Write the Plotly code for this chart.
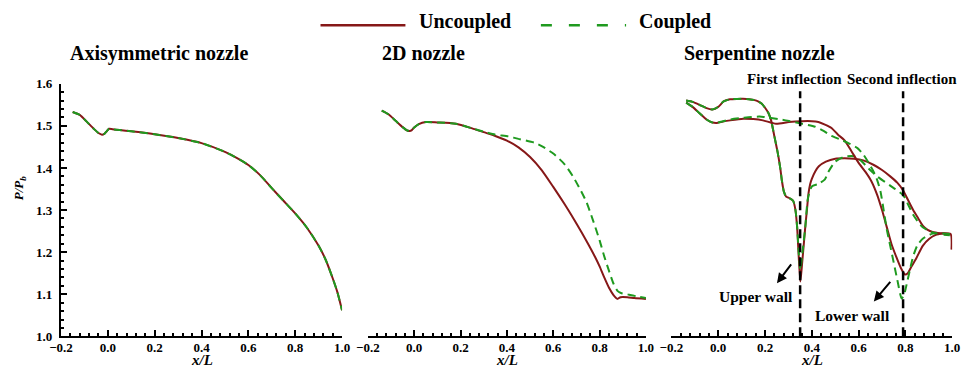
import plotly.graph_objects as go

# ---------------- data ----------------
# Axisymmetric nozzle
axi_x = [-0.15, -0.12, -0.09, -0.06, -0.04, -0.025, -0.015, -0.005, 0.005, 0.02, 0.05, 0.1, 0.2, 0.3,
         0.4, 0.5, 0.55, 0.6, 0.65, 0.7, 0.75, 0.8, 0.85, 0.9, 0.93, 0.96, 0.98, 1.0]
axi_unc = [1.533, 1.526, 1.510, 1.493, 1.483, 1.479, 1.481, 1.487, 1.493, 1.492, 1.490, 1.487, 1.480, 1.471,
           1.459, 1.438, 1.424, 1.407, 1.383, 1.352, 1.322, 1.292, 1.258, 1.215, 1.182, 1.138, 1.105, 1.062]
axi_cpl = [1.533, 1.526, 1.510, 1.493, 1.483, 1.479, 1.481, 1.487, 1.493, 1.492, 1.490, 1.487, 1.480, 1.471,
           1.459, 1.438, 1.424, 1.407, 1.383, 1.352, 1.322, 1.292, 1.258, 1.215, 1.182, 1.138, 1.105, 1.062]

# 2D nozzle
d2_unc_x = [-0.14, -0.11, -0.08, -0.05, -0.03, -0.02, -0.01, 0.0, 0.02, 0.05, 0.1, 0.18, 0.25, 0.3, 0.35,
            0.4, 0.45, 0.5, 0.55, 0.6, 0.65, 0.7, 0.75, 0.78, 0.8, 0.82, 0.84, 0.86, 0.877, 0.89, 0.92, 0.95, 1.0]
d2_unc = [1.536, 1.527, 1.512, 1.497, 1.489, 1.488, 1.490, 1.496, 1.504, 1.509, 1.508, 1.505, 1.494, 1.485, 1.476,
          1.465, 1.449, 1.426, 1.395, 1.355, 1.313, 1.268, 1.220, 1.189, 1.166, 1.140, 1.116, 1.098, 1.089, 1.093,
          1.093, 1.091, 1.089]
d2_cpl_x = [-0.14, -0.11, -0.08, -0.05, -0.03, -0.02, -0.01, 0.0, 0.02, 0.05, 0.1, 0.18, 0.25, 0.3, 0.35,
            0.406, 0.45, 0.518, 0.55, 0.603, 0.65, 0.687, 0.72, 0.744, 0.77, 0.8, 0.82, 0.842, 0.86, 0.877, 0.892,
            0.927, 0.96, 1.0]
d2_cpl = [1.536, 1.527, 1.512, 1.497, 1.489, 1.488, 1.490, 1.496, 1.504, 1.509, 1.508, 1.505, 1.494, 1.486, 1.479,
          1.475, 1.469, 1.460, 1.452, 1.433, 1.408, 1.378, 1.345, 1.318, 1.278, 1.228, 1.190, 1.153, 1.125, 1.108,
          1.103, 1.099, 1.095, 1.091]

# Serpentine nozzle - upper wall
sp_up_unc_x = [-0.137, -0.11, -0.08, -0.05, -0.025, 0.0, 0.023, 0.05, 0.08, 0.12, 0.163, 0.185, 0.2, 0.215,
               0.226, 0.24, 0.254, 0.265, 0.272, 0.28, 0.29, 0.305, 0.32, 0.33, 0.337, 0.344, 0.351, 0.358,
               0.365, 0.372, 0.379, 0.386, 0.393, 0.40, 0.415, 0.43, 0.46, 0.5, 0.54, 0.58, 0.62, 0.665, 0.7,
               0.735, 0.765, 0.791, 0.81, 0.833, 0.855, 0.874, 0.895, 0.916, 0.95, 0.993, 0.997]
sp_up_unc = [1.560, 1.557, 1.550, 1.542, 1.539, 1.545, 1.558, 1.563, 1.564, 1.564, 1.560, 1.553, 1.543, 1.530,
             1.513, 1.475, 1.437, 1.400, 1.370, 1.345, 1.332, 1.328, 1.322, 1.300, 1.260, 1.190, 1.130, 1.170,
             1.215, 1.260, 1.300, 1.340, 1.362, 1.374, 1.392, 1.404, 1.415, 1.422, 1.423, 1.422, 1.418, 1.407,
             1.395, 1.380, 1.365, 1.346, 1.325, 1.300, 1.280, 1.263, 1.253, 1.248, 1.245, 1.243, 1.206]
sp_up_cpl_x = [-0.137, -0.11, -0.08, -0.05, -0.025, 0.0, 0.023, 0.05, 0.08, 0.12, 0.163, 0.185, 0.2, 0.215,
               0.226, 0.24, 0.254, 0.265, 0.272, 0.28, 0.29, 0.305, 0.32, 0.33, 0.337, 0.344, 0.351, 0.358,
               0.372, 0.383, 0.40, 0.428, 0.456, 0.47, 0.5, 0.54, 0.58, 0.609, 0.64, 0.679, 0.735, 0.791, 0.81,
               0.833, 0.874, 0.93, 0.99]
sp_up_cpl = [1.560, 1.557, 1.550, 1.542, 1.539, 1.545, 1.558, 1.563, 1.564, 1.564, 1.560, 1.553, 1.543, 1.530,
             1.513, 1.475, 1.437, 1.400, 1.370, 1.345, 1.332, 1.328, 1.322, 1.300, 1.262, 1.200, 1.158, 1.190,
             1.259, 1.327, 1.356, 1.362, 1.373, 1.390, 1.415, 1.427, 1.428, 1.418, 1.400, 1.380, 1.358, 1.335,
             1.315, 1.289, 1.259, 1.244, 1.240]

# Serpentine nozzle - lower wall
sp_lo_unc_x = [-0.137, -0.11, -0.08, -0.05, -0.025, -0.005, 0.02, 0.051, 0.107, 0.15, 0.191, 0.247, 0.302, 0.358,
               0.40, 0.428, 0.456, 0.484, 0.512, 0.539, 0.568, 0.6, 0.63, 0.655, 0.68, 0.70, 0.72, 0.74, 0.76,
               0.78, 0.798, 0.81, 0.825, 0.846, 0.874, 0.902, 0.93, 0.96, 0.99]
sp_lo_unc = [1.555, 1.545, 1.530, 1.515, 1.508, 1.507, 1.510, 1.513, 1.517, 1.516, 1.513, 1.505, 1.509, 1.511,
             1.511, 1.509, 1.503, 1.495, 1.479, 1.466, 1.441, 1.412, 1.390, 1.368, 1.335, 1.300, 1.260, 1.220,
             1.190, 1.163, 1.147, 1.150, 1.165, 1.185, 1.215, 1.232, 1.241, 1.244, 1.243]
sp_lo_cpl_x = [-0.137, -0.11, -0.08, -0.05, -0.025, -0.005, 0.02, 0.051, 0.107, 0.177, 0.288, 0.358, 0.414,
               0.45, 0.484, 0.52, 0.56, 0.595, 0.62, 0.645, 0.665, 0.68, 0.693, 0.707, 0.72, 0.735, 0.75, 0.765,
               0.784, 0.795, 0.805, 0.82, 0.833, 0.85, 0.874, 0.916, 0.99]
sp_lo_cpl = [1.555, 1.545, 1.530, 1.515, 1.508, 1.507, 1.511, 1.515, 1.519, 1.522, 1.513, 1.505, 1.498,
             1.488, 1.476, 1.468, 1.458, 1.447, 1.432, 1.410, 1.390, 1.370, 1.345, 1.300, 1.255, 1.215, 1.175,
             1.135, 1.090, 1.100, 1.123, 1.160, 1.190, 1.215, 1.232, 1.244, 1.243]

inflection_x = [0.35, 0.79]
inflection_y = [1.0, 1.582]

panel_titles = ["Axisymmetric nozzle", "2D nozzle", "Serpentine nozzle"]
x_ticks = [-0.2, 0.0, 0.2, 0.4, 0.6, 0.8, 1.0]
y_ticks = [1.0, 1.1, 1.2, 1.3, 1.4, 1.5, 1.6]

# ---------------- styles ----------------
RED = "#861818"
GREEN = "#1f9a1f"
FONT = "Times New Roman, Liberation Serif, DejaVu Serif, serif"
W, H = 971, 369

fig = go.Figure()

def add_pair(xs_u, ys_u, xs_c, ys_c, xa, ya):
    fig.add_trace(go.Scatter(x=xs_u, y=ys_u, mode="lines", line=dict(color=RED, width=2, shape="spline", smoothing=0.6),
                             xaxis=xa, yaxis=ya, showlegend=False, name="Uncoupled"))
    fig.add_trace(go.Scatter(x=xs_c, y=ys_c, mode="lines",
                             line=dict(color=GREEN, width=2, dash="8px,5px", shape="spline", smoothing=0.6),
                             xaxis=xa, yaxis=ya, showlegend=False, name="Coupled"))

add_pair(axi_x, axi_unc, axi_x, axi_cpl, "x", "y")
add_pair(d2_unc_x, d2_unc, d2_cpl_x, d2_cpl, "x2", "y2")
add_pair(sp_up_unc_x, sp_up_unc, sp_up_cpl_x, sp_up_cpl, "x3", "y3")
add_pair(sp_lo_unc_x, sp_lo_unc, sp_lo_cpl_x, sp_lo_cpl, "x3", "y3")

for xi in inflection_x:
    fig.add_trace(go.Scatter(x=[xi, xi], y=inflection_y, mode="lines",
                             line=dict(color="black", width=2.5, dash="9px,5px"),
                             xaxis="x3", yaxis="y3", showlegend=False))

domains = [[50 / W, 337 / W], [363.3 / W, 647.3 / W], [673.3 / W, 960 / W]]
ydom = [(H - 343.3) / H, (H - 80) / H]
tickfont = dict(family=FONT, size=13, color="black", weight="bold")

for i, dom in enumerate(domains):
    key = "xaxis" if i == 0 else f"xaxis{i+1}"
    fig.layout[key] = dict(domain=dom, range=[-0.2, 1.0], tickvals=x_ticks, tickformat=".1f",
                           ticks="inside", ticklen=6, tickwidth=2, tickcolor="black",
                           minor=dict(dtick=0.04, tick0=-0.2, ticks="inside", ticklen=3, tickwidth=1.5, tickcolor="black"),
                           showline=True, linecolor="black", linewidth=2, showgrid=False, zeroline=False,
                           tickfont=tickfont, anchor="y" if i == 0 else f"y{i+1}", ticklabelstandoff=-2)
    ykey = "yaxis" if i == 0 else f"yaxis{i+1}"
    if i == 0:
        fig.layout[ykey] = dict(domain=ydom, range=[1.0, 1.6], tickvals=y_ticks, tickformat=".1f",
                                ticks="inside", ticklen=6, tickwidth=2, tickcolor="black",
                                minor=dict(dtick=0.02, ticks="inside", ticklen=3, tickwidth=1.5, tickcolor="black"),
                                showline=True, linecolor="black", linewidth=2, showgrid=False, zeroline=False,
                                tickfont=tickfont, anchor="x", ticklabelstandoff=4)
    else:
        fig.layout[ykey] = dict(domain=ydom, range=[1.0, 1.6], visible=False, anchor=f"x{i+1}")

def txt(text, x, y, xref="paper", yref="paper", size=14, xanchor="center", yanchor="middle", **kw):
    d = dict(text=text, x=x, y=y, xref=xref, yref=yref, xanchor=xanchor, yanchor=yanchor,
             showarrow=False, font=dict(family=FONT, size=size, color="black"))
    d.update(kw)
    return d

ann = []
for t, cx in zip(panel_titles, [150, 420, 763]):
    ann.append(txt(f"<b>{t}</b>", cx / W, (H - 48) / H, size=20))
for xr in ["x domain", "x2 domain", "x3 domain"]:
    ann.append(txt("<b><i>x/L</i></b>", 0.5, 0, xref=xr, size=15, yanchor="bottom", yshift=-9))
ann.append(txt("<b><i>P/P<sub>b</sub></i></b>", 8 / W, (H - 188) / H, size=13, textangle=-90))
for t, xv in zip(["First inflection", "Second inflection"], [0.324, 0.785]):
    ann.append(txt(f"<b>{t}</b>", xv, (H - 75) / H, xref="x3", size=15))
ann.append(txt("<b>Upper wall</b>", 0.163, 1.095, xref="x3", yref="y3", size=15.5))
ann.append(txt("<b>Lower wall</b>", 0.573, 1.05, xref="x3", yref="y3", size=15.5))
for hx, hy, tx, ty in [(0.251, 1.126, 0.3165, 1.1746), (0.665, 1.083, 0.7406, 1.1329)]:
    ann.append(dict(text="", x=hx, y=hy, ax=tx, ay=ty, xref="x3", yref="y3", axref="x3", ayref="y3",
                    showarrow=True, arrowhead=2, arrowsize=1, arrowwidth=2, arrowcolor="black"))
ann.append(txt("<b>Uncoupled</b>", 414 / W, (H - 15) / H, size=20, xanchor="left"))
ann.append(txt("<b>Coupled</b>", 638 / W, (H - 15) / H, size=20, xanchor="left"))

shapes = [
    dict(type="line", xref="paper", yref="paper", x0=315 / W, x1=401.7 / W, y0=(H - 19) / H, y1=(H - 19) / H,
         line=dict(color=RED, width=2.5)),
    dict(type="line", xref="paper", yref="paper", x0=540 / W, x1=627 / W, y0=(H - 19) / H, y1=(H - 19) / H,
         line=dict(color=GREEN, width=2.5, dash="11px,17px")),
]

fig.update_layout(width=W, height=H, margin=dict(l=0, r=0, t=0, b=0),
                  paper_bgcolor="white", plot_bgcolor="white", annotations=ann, shapes=shapes,
                  showlegend=False)

fig.write_html("out.html")
